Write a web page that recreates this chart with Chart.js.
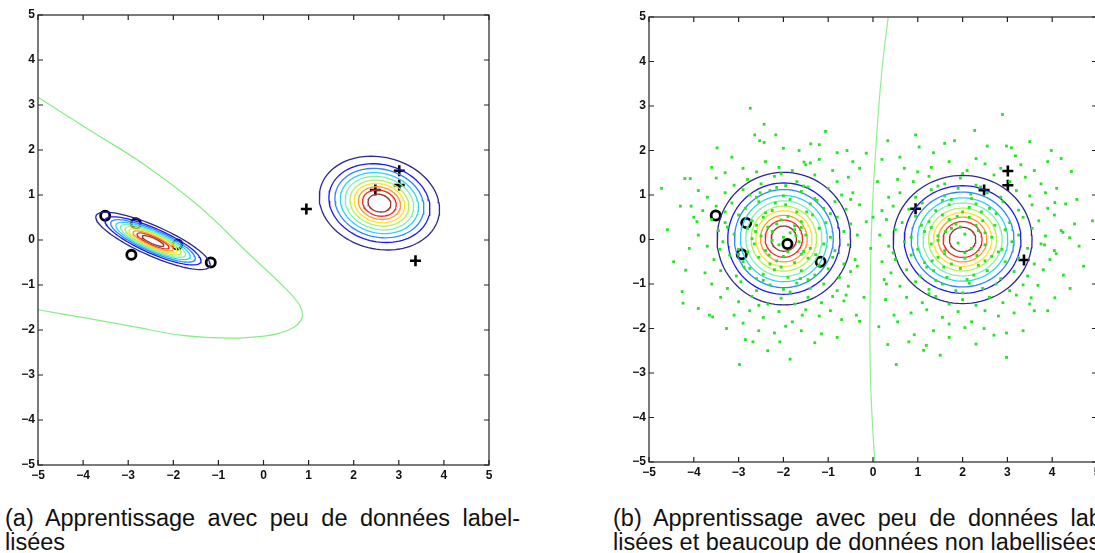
<!DOCTYPE html>
<html>
<head>
<meta charset="utf-8">
<script src="https://cdn.jsdelivr.net/npm/chart.js@4"></script>
<style>
  html, body { margin: 0; padding: 0; background: #fff; width: 1095px; height: 553px; overflow: hidden; }
  .pane { position: absolute; top: 0; }
  .cap { position: absolute; font-family: 'Liberation Sans', Arial, sans-serif; font-size: 23.5px; line-height: 24px; color: #111; white-space: nowrap; }
  .just { text-align: justify; text-align-last: justify; white-space: normal; }
</style>
</head>
<body>
<div class="pane" style="left:0;width:505px;height:500px"><canvas id="chartA"></canvas></div>
<div class="pane" style="left:600px;width:513px;height:500px"><canvas id="chartB"></canvas></div>
<div class="cap just" style="left:5px;top:506px;width:515px">(a) Apprentissage avec peu de données label-</div>
<div class="cap" style="left:5px;top:530px">lisées</div>
<div class="cap just" style="left:613px;top:506px;width:515px">(b) Apprentissage avec peu de données label-</div>
<div class="cap" style="left:613px;top:530px">lisées et beaucoup de données non labellisées</div>
<script>
const axisTicks = [-5, -4, -3, -2, -1, 0, 1, 2, 3, 4, 5];

// labelled points, shared by both panels
const labeledO = [[-3.51, 0.54], [-2.83, 0.37], [-2.93, -0.33], [-1.91, -0.10], [-1.17, -0.50]];
const labeledPlus = [[0.95, 0.69], [2.48, 1.11], [3.01, 1.54], [3.01, 1.22], [3.37, -0.46]];

// contour families: [cx, cy, semi-axis a, semi-axis b, angle in degrees]
const gaussA = [[-2.45, -0.02, 1.38, 0.33, -24], [2.57, 0.82, 1.35, 1.02, -14]];
const gaussB = [[-1.99, 0.02, 1.49, 1.49, 0], [2.0, 0.0, 1.55, 1.44, 0]];
const ringScale = [1, 0.84, 0.74, 0.65, 0.57, 0.49, 0.42, 0.35, 0.28, 0.19];
const ringColors = ['#2a2a8e', '#1c1ce8', '#2f86ff', '#2fd2f2', '#7ef0b0', '#b4f05a', '#ffe22a', '#ff9a2a', '#ee2a22', '#8e3a34'];

// decision boundaries
const boundaryA = [[-5, 3.17], [-3.87, 2.45], [-2.68, 1.70], [-1.43, 0.75], [-0.32, -0.31], [0.5, -1.09],
  [0.8, -1.45], [0.86, -1.7], [0.7, -1.92], [0.35, -2.07], [0.05, -2.13], [-0.69, -2.18],
  [-1.8, -2.12], [-2.91, -1.92], [-4.02, -1.72], [-5, -1.55]];
const boundaryB = [[0.34, 5], [0.22, 4], [0.13, 3], [0.06, 2], [0.0, 1], [-0.04, 0], [-0.06, -1],
  [-0.07, -2], [-0.06, -3], [-0.02, -4], [0.04, -5]];

// unlabelled points of panel (b)
const unlabeledLeft = [
  [-2.74,2.95],[-2.43,2.59],[-2.64,2.35],[-2.17,2.35],[-2.53,2.22],[-2.43,2.18],[-1.06,2.43],[-3.48,2.06],
  [-4.72,1.15],[-4.59,0.22],[-4.20,1.37],[-4.08,1.37],[-4.06,0.75],[-3.93,0.40],[-4.26,-1.17],[-4.24,-1.43],
  [-4.18,-0.69],[-3.65,-1.70],[-3.58,-1.74],[-3.27,-2.00],[-2.98,-2.81],[-1.85,-2.69],[-2.68,-2.30],[-2.08,-2.30],
  [-1.30,-2.32],[-1.58,-1.70],[-0.58,2.00],[-1.39,2.15],[-1.20,2.13],[-1.54,1.74],[-1.40,1.72],[-0.15,1.94],
  [-2.9,1.6],[-2.4,1.75],[-1.8,1.55],[-1.5,1.68],[-2.1,1.62],[-3.3,1.5],[-0.9,1.55],[-2.6,1.52],[-1.2,1.8],[-3.6,1.62],
  [-2.8,1.35],[-2.2,1.42],[-1.7,1.3],[-1.3,1.45],[-3.1,1.22],[-2.5,1.25],[-0.8,1.3],[-1.95,1.21],[-3.5,1.38],[-0.55,1.4],[-2.05,1.48],[-1.55,1.2],
  [-3.3,1.05],[-2.9,1.12],[-2.6,0.95],[-2.3,1.1],[-2.0,0.98],[-1.6,1.08],[-1.3,0.92],[-1.0,1.15],[-0.7,1.0],[-3.7,0.95],[-2.15,1.17],[-1.85,0.9],[-2.75,1.0],[-0.45,1.05],[-1.45,1.18],
  [-3.5,0.75],[-3.15,0.82],[-2.85,0.7],[-2.55,0.85],[-2.25,0.65],[-1.95,0.78],[-1.7,0.62],[-1.4,0.8],[-1.1,0.7],[-0.85,0.85],[-0.6,0.68],[-3.8,0.65],[-2.4,0.6],[-1.25,0.88],[-3.3,0.62],[-0.3,0.78],
  [-3.6,0.45],[-3.3,0.38],[-3.0,0.55],[-2.7,0.42],[-2.45,0.5],[-2.15,0.35],[-1.9,0.52],[-1.6,0.4],[-1.35,0.55],[-1.05,0.38],[-0.8,0.5],[-0.5,0.35],[-2.05,0.44],[-1.75,0.31],[-2.6,0.32],[-4.0,0.5],[-0.95,0.58],
  [-3.9,0.1],[-3.45,0.2],[-3.1,0.12],[-2.8,0.25],[-2.5,0.08],[-2.25,0.18],[-2.0,0.05],[-1.75,0.22],[-1.5,0.1],[-1.2,0.25],[-0.95,0.05],[-0.65,0.18],[-0.35,0.1],[-2.35,0.28],[-1.85,0.15],[-1.6,0.27],[-2.7,0.02],[-3.25,0.28],
  [-3.7,-0.15],[-3.35,-0.05],[-3.0,-0.22],[-2.65,-0.1],[-2.4,-0.25],[-2.1,-0.12],[-1.9,-0.28],[-1.65,-0.05],[-1.4,-0.2],[-1.1,-0.1],[-0.85,-0.25],[-0.55,-0.12],[-2.25,-0.02],[-1.55,-0.27],[-2.8,-0.28],[-4.1,-0.2],
  [-3.55,-0.45],[-3.2,-0.35],[-2.9,-0.5],[-2.55,-0.4],[-2.3,-0.55],[-2.0,-0.38],[-1.75,-0.52],[-1.45,-0.42],[-1.2,-0.58],[-0.9,-0.4],[-0.65,-0.55],[-2.15,-0.48],[-1.6,-0.33],[-3.0,-0.33],[-0.4,-0.45],
  [-3.75,-0.75],[-3.4,-0.7],[-3.05,-0.82],[-2.75,-0.65],[-2.45,-0.78],[-2.2,-0.68],[-1.9,-0.85],[-1.6,-0.7],[-1.3,-0.8],[-1.0,-0.66],[-0.75,-0.85],[-0.5,-0.72],[-2.05,-0.62],[-2.6,-0.88],[-1.45,-0.9],
  [-3.6,-1.0],[-3.25,-1.1],[-2.95,-0.95],[-2.6,-1.15],[-2.3,-1.02],[-2.0,-1.12],[-1.7,-0.98],[-1.4,-1.1],[-1.1,-1.0],[-0.8,-1.15],[-1.85,-1.18],[-2.45,-0.92],[-0.55,-1.05],
  [-3.4,-1.3],[-3.0,-1.4],[-2.7,-1.28],[-2.35,-1.45],[-2.05,-1.32],[-1.75,-1.45],[-1.45,-1.3],[-1.15,-1.42],[-0.9,-1.28],[-2.55,-1.48],[-0.65,-1.38],
  [-3.1,-1.7],[-2.75,-1.6],[-2.45,-1.75],[-2.1,-1.62],[-1.8,-1.85],[-1.5,-1.58],[-1.2,-1.72],[-0.95,-1.6],[-2.9,-1.88],[-3.9,-1.55],[-0.7,-1.8],
  [-2.55,-2.05],[-2.2,-2.1],[-1.95,-1.95],[-1.6,-2.05],[-2.85,-2.25],[-1.15,-2.12],[-2.35,-2.5],[-0.8,-2.2],
  [-3.15,1.85],[-1.65,2.0],[-2.0,2.05],[-0.8,1.95],[-3.9,1.1],[-4.3,0.75],[-4.45,-0.5],[-0.3,1.6],[-0.2,-1.3],
  [-2.62,0.18],[-2.32,-0.35],[-1.72,0.08],[-1.48,0.62],[-2.88,-0.62],[-2.18,0.82],[-1.28,-0.34],[-3.42,-0.22],[-2.52,1.05],[-1.62,-0.88]
];
const unlabeledRight = [
  [0.33,2.22],[1.03,2.08],[1.60,2.16],[1.82,2.22],[2.27,2.45],[2.89,2.81],[2.98,2.10],[3.09,2.06],[3.18,1.88],
  [3.98,2.00],[4.20,1.82],[4.43,1.53],[4.06,0.83],[4.24,0.16],[4.39,0.04],[4.90,0.42],[3.83,-0.12],[4.09,-0.32],
  [4.06,-1.31],[3.68,-1.03],[3.53,-1.31],[2.98,-2.10],[2.98,-2.65],[2.48,-2.00],[1.13,-2.49],[1.19,-2.38],[0.52,-2.81],
  [0.33,-2.36],[0.28,-1.35],[0.47,-1.70],[0.92,-2.14],[0.13,-1.96],[-0.30,-1.84],[-0.37,-1.70],
  [1.3,1.62],[1.7,1.75],[2.1,1.55],[2.5,1.7],[2.85,1.6],[1.0,1.52],[3.3,1.68],[2.3,1.82],[0.7,1.6],[3.6,1.55],
  [0.9,1.3],[1.25,1.42],[1.6,1.25],[1.95,1.38],[2.3,1.22],[2.7,1.45],[3.05,1.3],[3.4,1.4],[0.55,1.35],[3.75,1.25],[2.0,1.48],[1.45,1.2],
  [0.6,1.05],[0.95,0.95],[1.3,1.12],[1.6,0.98],[1.9,1.15],[2.2,0.92],[2.55,1.05],[2.85,0.95],[3.2,1.1],[3.5,0.98],[3.85,1.05],[1.75,0.9],[2.4,1.18],[0.35,0.95],[4.1,1.15],
  [0.45,0.75],[0.8,0.68],[1.1,0.82],[1.4,0.65],[1.7,0.78],[2.0,0.62],[2.3,0.8],[2.6,0.7],[2.9,0.85],[3.25,0.66],[3.55,0.78],[3.9,0.7],[1.55,0.88],[2.15,0.72],[0.2,0.65],[4.3,0.8],
  [0.3,0.45],[0.65,0.38],[0.95,0.52],[1.25,0.4],[1.55,0.55],[1.85,0.35],[2.15,0.5],[2.45,0.42],[2.75,0.58],[3.05,0.38],[3.35,0.5],[3.7,0.42],[4.05,0.55],[1.7,0.45],[2.3,0.32],[0.0,0.5],[4.5,0.35],
  [0.15,0.1],[0.5,0.22],[0.85,0.05],[1.15,0.18],[1.45,0.08],[1.75,0.25],[2.05,0.12],[2.35,0.2],[2.65,0.05],[2.95,0.22],[3.25,0.1],[3.55,0.25],[3.85,0.08],[1.95,0.28],[2.5,0.15],[4.2,0.2],[1.3,0.27],
  [0.35,-0.15],[0.7,-0.05],[1.0,-0.22],[1.3,-0.1],[1.6,-0.25],[1.9,-0.08],[2.2,-0.2],[2.5,-0.12],[2.8,-0.28],[3.1,-0.05],[3.45,-0.2],[3.75,-0.1],[4.05,-0.25],[2.05,-0.3],[1.45,-0.02],[-0.05,-0.2],[4.6,-0.15],
  [0.5,-0.45],[0.85,-0.35],[1.15,-0.52],[1.45,-0.4],[1.75,-0.55],[2.05,-0.42],[2.35,-0.58],[2.65,-0.38],[2.95,-0.5],[3.25,-0.42],[3.6,-0.55],[3.95,-0.45],[1.6,-0.32],[2.5,-0.48],[0.2,-0.5],
  [0.4,-0.75],[0.75,-0.68],[1.05,-0.82],[1.35,-0.7],[1.65,-0.85],[1.95,-0.65],[2.25,-0.8],[2.55,-0.7],[2.85,-0.88],[3.15,-0.72],[3.45,-0.82],[3.8,-0.68],[2.1,-0.9],[1.2,-0.62],[4.25,-0.8],
  [0.6,-1.05],[0.95,-0.95],[1.25,-1.12],[1.55,-1.0],[1.85,-1.15],[2.15,-0.98],[2.45,-1.1],[2.75,-1.0],[3.05,-1.15],[3.35,-1.02],[2.0,-1.2],[1.4,-0.92],[0.3,-1.0],
  [0.75,-1.3],[1.1,-1.42],[1.4,-1.28],[1.7,-1.45],[2.0,-1.35],[2.3,-1.48],[2.6,-1.3],[2.9,-1.42],[3.2,-1.25],[3.5,-1.45],[1.25,-1.22],
  [0.85,-1.65],[1.2,-1.58],[1.55,-1.75],[1.9,-1.62],[2.2,-1.85],[2.5,-1.6],[2.8,-1.72],[3.15,-1.65],[0.55,-1.85],[3.6,-1.6],[1.7,-1.9],
  [1.35,-2.05],[1.7,-2.2],[2.05,-1.98],[2.7,-2.15],[0.8,-2.3],[3.35,-2.05],[1.5,-2.6],[2.3,-2.35],
  [0.95,2.35],[2.55,2.1],[3.5,2.2],[1.35,1.95],[0.2,1.8],[3.9,1.75],[4.55,0.9],[4.7,-0.6],[4.4,-1.1],[3.9,-1.6],
  [-0.5,0.9],[-0.35,-0.6],[0.1,1.3],[0.25,-0.9],[-0.15,0.4],[0.45,-0.3],[-0.6,-1.25],[0.6,1.85],[-0.45,1.75],
  [1.62,0.18],[2.32,-0.36],[1.88,0.52],[2.72,0.32],[1.32,-0.48],[2.42,0.62],[1.58,-0.62],[2.88,-0.22],[2.18,1.02],[1.08,0.32]
];

const toXY = arr => arr.map(p => ({ x: p[0], y: p[1] }));

function ellipse(g, s) {
  const [cx, cy, a, b, deg] = g;
  const th = deg * Math.PI / 180;
  const pts = [];
  for (let i = 0; i <= 96; i++) {
    const t = i / 96 * 2 * Math.PI;
    const u = a * s * Math.cos(t), v = b * s * Math.sin(t);
    pts.push({ x: cx + u * Math.cos(th) - v * Math.sin(th), y: cy + u * Math.sin(th) + v * Math.cos(th) });
  }
  return pts;
}

function contourSets(gauss) {
  const sets = [];
  gauss.forEach(g => {
    ringScale.forEach((s, i) => {
      sets.push({ data: ellipse(g, s), showLine: true, borderColor: ringColors[i], borderWidth: 1.3, pointRadius: 0, tension: 0 });
    });
  });
  return sets;
}

function markerSets() {
  return [
    { data: toXY(labeledO), pointStyle: 'circle', pointRadius: 4.6, borderColor: '#000', backgroundColor: 'rgba(0,0,0,0)', borderWidth: 2.8, showLine: false },
    { data: toXY(labeledPlus), pointStyle: 'cross', pointRadius: 5.5, borderColor: '#000', borderWidth: 2.6, showLine: false }
  ];
}

const boxPlugin = {
  id: 'box',
  afterDraw(chart) {
    const { ctx, chartArea: a, scales: { x, y } } = chart;
    ctx.save();
    ctx.strokeStyle = '#222';
    ctx.lineWidth = 1.2;
    ctx.strokeRect(a.left, a.top, a.right - a.left, a.bottom - a.top);
    ctx.beginPath();
    x.ticks.forEach(t => {
      const p = x.getPixelForValue(t.value);
      ctx.moveTo(p, a.bottom); ctx.lineTo(p, a.bottom - 5);
      ctx.moveTo(p, a.top); ctx.lineTo(p, a.top + 5);
    });
    y.ticks.forEach(t => {
      const p = y.getPixelForValue(t.value);
      ctx.moveTo(a.left, p); ctx.lineTo(a.left + 5, p);
      ctx.moveTo(a.right, p); ctx.lineTo(a.right - 5, p);
    });
    ctx.stroke();
    ctx.restore();
  }
};

function makeOptions(yWidth, pad) {
  const tickFont = { family: 'Liberation Sans', size: 12, weight: 'bold' };
  const lbl = v => String(v).replace('-', '\u2212');
  return {
    responsive: true,
    maintainAspectRatio: false,
    animation: false,
    layout: { padding: pad },
    plugins: { legend: { display: false }, tooltip: { enabled: false } },
    scales: {
      x: {
        type: 'linear', min: -5, max: 5,
        afterBuildTicks: s => { s.ticks = axisTicks.map(v => ({ value: v })); },
        afterFit: s => { s.height = 25; },
        grid: { display: false, drawTicks: false }, border: { display: false },
        ticks: { font: tickFont, color: '#111', padding: 3, callback: lbl, autoSkip: false, maxRotation: 0 }
      },
      y: {
        type: 'linear', min: -5, max: 5,
        afterBuildTicks: s => { s.ticks = axisTicks.map(v => ({ value: v })); },
        afterFit: s => { s.width = yWidth; },
        grid: { display: false, drawTicks: false }, border: { display: false },
        ticks: { font: tickFont, color: '#111', padding: 3, callback: lbl, autoSkip: false }
      }
    }
  };
}

new Chart(document.getElementById('chartA'), {
  type: 'scatter',
  data: {
    datasets: [
      { data: toXY(boundaryA), showLine: true, borderColor: '#86ee86', borderWidth: 1.2, pointRadius: 0, tension: 0.4 },
      ...contourSets(gaussA),
      ...markerSets()
    ]
  },
  options: makeOptions(38, { left: 0, right: 16, top: 15, bottom: 10 }),
  plugins: [boxPlugin]
});

new Chart(document.getElementById('chartB'), {
  type: 'scatter',
  data: {
    datasets: [
      { data: toXY(unlabeledLeft.concat(unlabeledRight)), pointStyle: 'rect', pointRadius: 2, backgroundColor: '#22e622', borderWidth: 0, showLine: false },
      { data: toXY(boundaryB), showLine: true, borderColor: '#92ee92', borderWidth: 1.2, pointRadius: 0, tension: 0.4 },
      ...contourSets(gaussB),
      ...markerSets()
    ]
  },
  options: makeOptions(49, { left: 0, right: 16, top: 17, bottom: 13 }),
  plugins: [boxPlugin]
});
</script>
</body>
</html>
